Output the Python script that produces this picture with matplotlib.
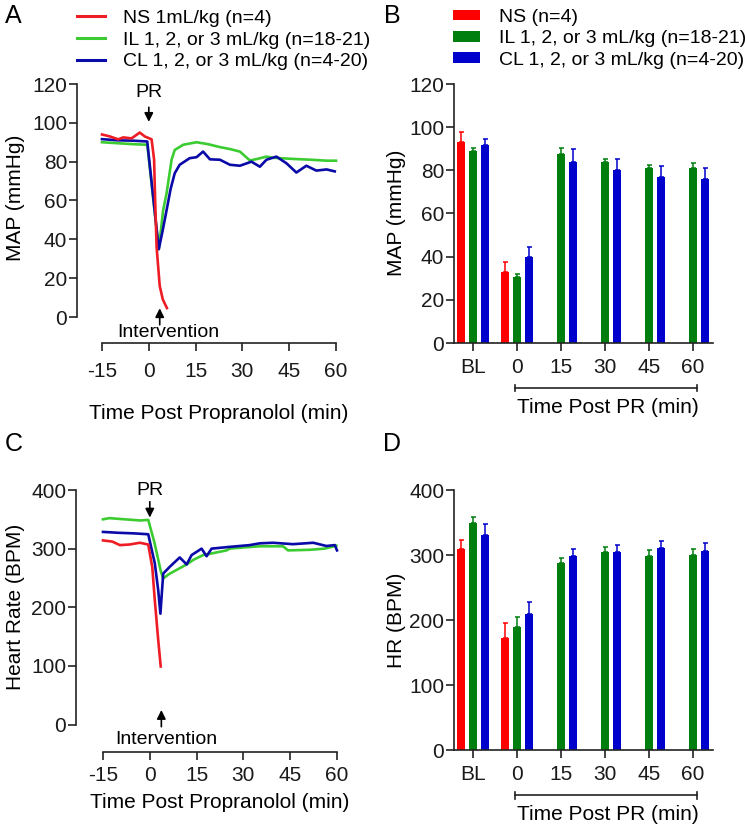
"""Propranolol MAP / HR figure: time traces (A, C) and binned bar summaries (B, D)."""

import matplotlib

matplotlib.use("Agg")
import matplotlib.pyplot as plt
from matplotlib.lines import Line2D
from matplotlib.patches import Patch
import numpy as np

plt.rcParams["font.family"] = ["Liberation Sans", "DejaVu Sans"]
plt.rcParams["axes.unicode_minus"] = False

# ---- trace data (panel A, MAP in mmHg) ----
ns_map_time = [-15, -12.5, -9.8, -8.2, -5.5, -2.9, -1.3, 0.9, 1.7, 2.0, 2.5, 3.5, 4.5, 5.8]
ns_map = [94, 93, 91.5, 92.5, 92, 95, 93, 91.5, 81, 62, 36, 16, 9, 4.6]

il_map_time = [-15, -10, -5, -0.5, 3.2, 4.6, 5.7, 7.3, 8.3, 11, 15.3, 19, 22.8, 26,
               29.2, 32.4, 35, 37.7, 40, 46.3, 52, 57, 60]
il_map = [90, 89.5, 89, 88.7, 35, 55, 63.7, 81, 86, 88.7, 90, 89, 87.5, 86.5,
          85.2, 80.6, 81.5, 82.6, 82, 81.4, 81, 80.5, 80.5]

cl_map_time = [-15, -10, -5, -0.5, 3.2, 4.5, 5.7, 7, 8.3, 9.9, 13.1, 15.3, 17.4, 19.6,
               22.8, 26, 29.2, 32.9, 35.6, 37.7, 40.9, 44.1, 47.3, 50.5, 53.7, 57, 59.6]
cl_map = [91.6, 91, 90.8, 90.4, 34.9, 45, 55, 66, 74, 78.4, 81.8, 82.3, 85.2, 81.2,
          81, 78.4, 77.9, 80, 77.4, 81, 82.6, 79.2, 74.4, 77.9, 75.4, 76, 75]

# ---- trace data (panel C, HR in BPM) ----
ns_hr_time = [-15, -12, -9.6, -6.5, -3.2, -0.5, 0.8, 1.6, 2.7, 3.5]
ns_hr = [314, 312, 306, 307, 310, 307, 268, 212, 144, 99]

il_hr_time = [-15, -13, -8, -3, -0.5, 1.5, 3.5, 4.3, 6, 8, 11.8, 14, 17.1, 20, 24.6,
              25.6, 30, 35.2, 42.7, 44.3, 51.3, 56, 59.8]
il_hr = [350, 352, 350, 348, 349, 310, 262, 249, 256, 262, 273, 281, 289, 292, 297,
         300, 302, 304, 304, 297, 298, 300, 305]

cl_hr_time = [-15, -10, -5, -0.5, 1.6, 2.7, 3.4, 4.3, 6.4, 8, 9.6, 11.8, 13.4, 16.6,
              18.2, 19.8, 25.6, 32, 35.2, 39.5, 45.9, 52.4, 56.6, 59.3, 60]
cl_hr = [328.5, 327, 326, 324.5, 275, 229, 189, 257.5, 269, 277, 285, 273, 289, 300,
         287, 300, 303, 306, 309, 310, 307.6, 310, 304.5, 306, 297]

time_ticks = [-15, 0, 15, 30, 45, 60]

# ---- bar data (panels B and D), mean and SEM per bin ----
bins = ["BL", "0", "15", "30", "45", "60"]
ns_map_bar = [93, 32.7]
ns_map_sem = [4.8, 4.8]
il_map_bar = [89, 30.7, 87.6, 83.9, 81, 81]
il_map_sem = [1.5, 1.5, 2.9, 1.5, 1.3, 2.3]
cl_map_bar = [91.8, 39.8, 83.9, 80, 77.1, 76]
cl_map_sem = [2.9, 4.6, 6, 5.3, 4.9, 5.3]

ns_hr_bar = [310, 172]
ns_hr_sem = [13, 23]
il_hr_bar = [349, 189, 287, 304, 298, 300]
il_hr_sem = [9, 15, 8, 8, 9, 9]
cl_hr_bar = [331, 210, 298, 305, 311, 306]
cl_hr_sem = [17, 17, 11, 10, 10, 13]

LINE_COLORS = {"NS": "#ee1c24", "IL": "#3ccc32", "CL": "#0a0aa8"}
BAR_COLORS = {"NS": "#ff0000", "IL": "#007f0e", "CL": "#0000cc"}
AXIS_COLOR = "#222222"

W, H = 745, 830
PX = 72 / 100  # points per pixel at dpi 100


def box(left, top, right, bottom):
    """Axes rectangle from pixel edges (origin top-left)."""
    return [left / W, 1 - bottom / H, (right - left) / W, (bottom - top) / H]


def style_axis(ax, left_out=0, bottom_out=0, xpad=5):
    for side in ("top", "right"):
        ax.spines[side].set_visible(False)
    for side in ("left", "bottom"):
        ax.spines[side].set_linewidth(1.2)
        ax.spines[side].set_color(AXIS_COLOR)
    ax.spines["left"].set_position(("outward", left_out * PX))
    ax.spines["bottom"].set_position(("outward", bottom_out * PX))
    ax.tick_params(length=5.5, width=1.2, color=AXIS_COLOR, labelsize=15,
                   labelcolor="#1a1a1a")
    ax.tick_params(axis="y", pad=1.5)
    ax.tick_params(axis="x", pad=xpad)


def trace_panel(ax, series, ymax, ystep, pr, interv, left_out, bottom_out,
                xpad, labelpad):
    ax.set_xlim(-15, 60)
    ax.set_ylim(0, ymax)
    style_axis(ax, left_out, bottom_out, xpad)
    ax.spines["left"].set_bounds(0, ymax)
    ax.spines["bottom"].set_bounds(-15, 60)
    ax.set_xticks(time_ticks)
    ax.set_yticks(np.arange(0, ymax + 1, ystep))
    for t, v, key in series:
        ax.plot(t, v, color=LINE_COLORS[key], lw=1.9, clip_on=False, zorder=3)
    arrow = dict(arrowstyle="-|>", color="black", lw=1.2, mutation_scale=13,
                 shrinkA=0, shrinkB=0)
    (px_, ptext, ptail, ptip), (ix, itail, itip, itx, ity) = pr, interv
    ax.annotate("", xy=(px_, ptip), xytext=(px_, ptail), arrowprops=arrow,
                annotation_clip=False)
    ax.text(px_, ptext, "PR", fontsize=14, ha="center", va="center")
    ax.annotate("", xy=(ix, itip), xytext=(ix, itail), arrowprops=arrow,
                annotation_clip=False)
    ax.text(itx, ity, "Intervention", fontsize=14, ha="center", va="center",
            clip_on=False)
    ax.set_xlabel("Time Post Propranolol (min)", fontsize=15, labelpad=labelpad)


def bar_panel(ax, ns, ns_sem, il, il_sem, cl, cl_sem, ymax, ystep):
    pos = np.arange(len(bins))
    offset, width = 0.27, 0.18
    groups = [
        (pos[: len(ns)] - offset, ns, ns_sem, "NS"),
        (pos, il, il_sem, "IL"),
        (pos + offset, cl, cl_sem, "CL"),
    ]
    for x, mean, sem, key in groups:
        c = BAR_COLORS[key]
        ax.bar(x, mean, width=width, color=c, linewidth=0, zorder=2)
        ax.errorbar(x, mean, yerr=[np.zeros(len(sem)), sem], fmt="none",
                    ecolor=c, elinewidth=1.1, capsize=1.8, capthick=1.1, zorder=1)
    ax.set_xlim(-0.43, 5.45)
    ax.set_ylim(0, ymax)
    style_axis(ax)
    ax.spines["left"].set_bounds(0, ymax)
    ax.set_xticks(pos, bins)
    ax.set_yticks(np.arange(0, ymax + 1, ystep))
    # bracket spanning the post-propranolol bins
    tr = ax.get_xaxis_transform()
    yb = -0.174
    ax.plot([0.95, 5.09], [yb, yb], color=AXIS_COLOR, lw=1.2, transform=tr,
            clip_on=False)
    for xe in (0.95, 5.09):
        ax.plot([xe, xe], [yb - 0.013, yb + 0.013], color=AXIS_COLOR, lw=1.2,
                transform=tr, clip_on=False)
    ax.text(3.07, -0.248, "Time Post PR (min)", fontsize=15, ha="center",
            va="center", transform=tr)


fig = plt.figure(figsize=(W / 100, H / 100), dpi=100)

ax_a = fig.add_axes(box(102, 84, 336, 317))
trace_panel(
    ax_a,
    [(il_map_time, il_map, "IL"), (cl_map_time, cl_map, "CL"), (ns_map_time, ns_map, "NS")],
    120, 20,
    (0, 115.5, 108, 100.5),
    (3.5, -4, 4.5, 6.4, -8.2),
    25, 26, 8, 17,
)

ax_c = fig.add_axes(box(103, 490, 337, 724.5))
trace_panel(
    ax_c,
    [(il_hr_time, il_hr, "IL"), (cl_hr_time, cl_hr, "CL"), (ns_hr_time, ns_hr, "NS")],
    400, 100,
    (0, 400, 380, 353),
    (3.7, -3.7, 24.7, 5.4, -26.4),
    27, 27, 5, 6,
)

ax_b = fig.add_axes(box(454, 84, 713, 343))
bar_panel(ax_b, ns_map_bar, ns_map_sem, il_map_bar, il_map_sem, cl_map_bar,
          cl_map_sem, 120, 20)

ax_d = fig.add_axes(box(454, 490, 713, 750))
bar_panel(ax_d, ns_hr_bar, ns_hr_sem, il_hr_bar, il_hr_sem, cl_hr_bar,
          cl_hr_sem, 400, 100)

# y labels and panel letters placed by pixel centre
for x, y, label in [(16, 198, "MAP (mmHg)"), (16, 607, "Heart Rate (BPM)"),
                    (397, 213, "MAP (mmHg)"), (397, 620, "HR (BPM)")]:
    fig.text(x / W, 1 - y / H, label, rotation=90, fontsize=15, ha="center",
             va="center")
for x, y, letter in [(13, 16, "A"), (392, 16, "B"), (14, 444, "C"), (392, 444, "D")]:
    fig.text(x / W, 1 - y / H, letter, fontsize=18, ha="center", va="center")

legend_labels = {
    "NS": ("NS 1mL/kg (n=4)", "NS (n=4)"),
    "IL": ("IL 1, 2, or 3 mL/kg (n=18-21)", "IL 1, 2, or 3 mL/kg (n=18-21)"),
    "CL": ("CL 1, 2, or 3 mL/kg (n=4-20)", "CL 1, 2, or 3 mL/kg (n=4-20)"),
}
keys = ["NS", "IL", "CL"]
line_handles = [Line2D([], [], color=LINE_COLORS[k], lw=2.2) for k in keys]
fig.legend(line_handles, [legend_labels[k][0] for k in keys], loc="upper left",
           bbox_to_anchor=(77 / W, 1 - 9 / H), frameon=False, fontsize=14,
           handlelength=1.45, handletextpad=0.9, labelspacing=0.22, borderpad=0,
           borderaxespad=0)
patch_handles = [Patch(facecolor=BAR_COLORS[k], linewidth=0) for k in keys]
fig.legend(patch_handles, [legend_labels[k][1] for k in keys], loc="upper left",
           bbox_to_anchor=(453 / W, 1 - 9 / H), frameon=False, fontsize=14,
           handlelength=1.4, handleheight=0.45, handletextpad=0.95,
           labelspacing=0.22, borderpad=0, borderaxespad=0)

fig.savefig("out.png", dpi=100)
